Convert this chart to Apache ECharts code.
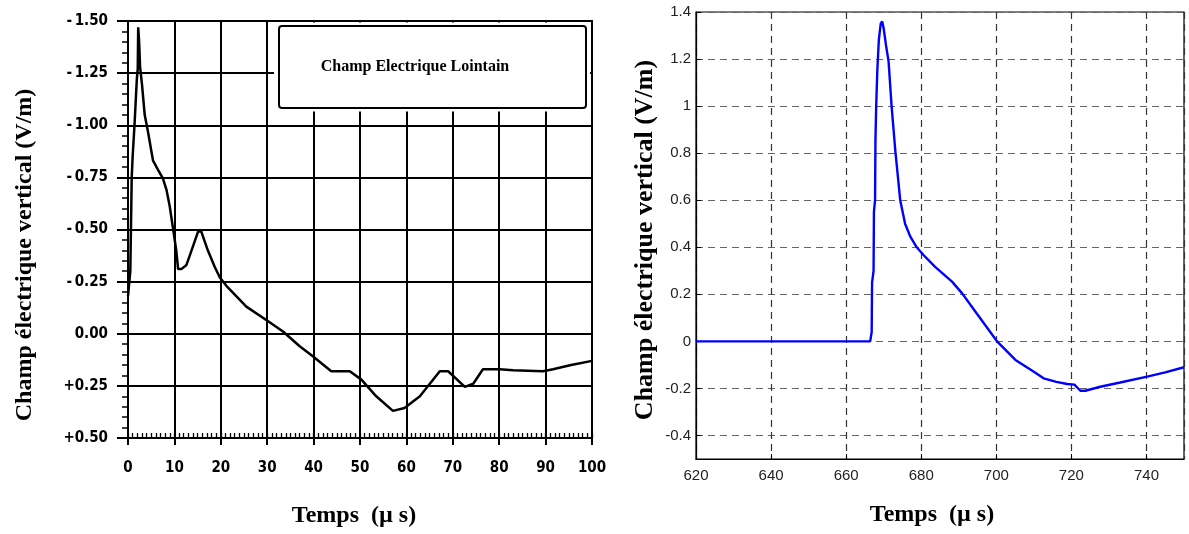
<!DOCTYPE html>
<html>
<head>
<meta charset="utf-8">
<script src="https://cdn.jsdelivr.net/npm/echarts@6/dist/echarts.min.js"></script>
<style>
html,body{margin:0;padding:0;background:#fff;}
#chart{width:1189px;height:534px;}
</style>
</head>
<body>
<div id="chart"></div>
<script>
// ---- Left panel (scanned measurement) ----
const leftTime = [0, 0.5, 0.8, 1.0, 1.4, 1.9, 2.1, 2.2, 2.4, 2.6, 3.0, 3.6, 4.3, 5.0, 5.4, 6.5, 7.5, 8.3, 9.0, 9.7, 10.4, 10.8, 11.5, 12.6, 13.7, 15.1, 15.8, 17.2, 18.7, 19.8, 21.2, 25.5, 30.2, 33.4, 37.0, 39.9, 43.8, 47.8, 50.3, 53.5, 57.1, 59.6, 62.9, 67.2, 69.0, 72.6, 74.4, 76.5, 80.1, 83.0, 89.4, 91.6, 95.5, 100];
const leftField = [0.18, 0.30, 0.75, 0.85, 1.00, 1.22, 1.27, 1.47, 1.40, 1.28, 1.20, 1.05, 0.97, 0.88, 0.83, 0.785, 0.746, 0.69, 0.61, 0.506, 0.40, 0.31, 0.31, 0.33, 0.40, 0.49, 0.49, 0.40, 0.32, 0.27, 0.23, 0.13, 0.06, 0.011, -0.06, -0.109, -0.18, -0.18, -0.22, -0.30, -0.37, -0.356, -0.30, -0.18, -0.18, -0.255, -0.24, -0.17, -0.17, -0.175, -0.18, -0.17, -0.15, -0.13];
const leftYTickLabels = ['+0.50', '+0.25', '0.00', '-\u20090.25', '-\u20090.50', '-\u20090.75', '-\u20091.00', '-\u20091.25', '-\u20091.50'];
const leftXTickLabels = ['0', '10', '20', '30', '40', '50', '60', '70', '80', '90', '100'];

// ---- Right panel (simulation) ----
const rightTime = [620, 666.4, 666.8, 666.9, 667.3, 667.4, 667.7, 667.8, 668.0, 668.3, 668.7, 669.2, 669.6, 670.0, 670.6, 671.3, 672.1, 673.1, 674.4, 675.7, 677.1, 678.8, 680.6, 683.7, 688.2, 690.9, 694.5, 698.0, 700.2, 705.1, 710.0, 712.6, 716, 718.9, 720.8, 722.4, 723.7, 727.7, 733, 740.2, 745, 750];
const rightField = [0, 0, 0.04, 0.25, 0.30, 0.55, 0.60, 0.85, 1.00, 1.15, 1.28, 1.35, 1.36, 1.33, 1.26, 1.19, 1.00, 0.81, 0.60, 0.50, 0.445, 0.40, 0.367, 0.317, 0.254, 0.204, 0.125, 0.048, 0.0, -0.079, -0.129, -0.157, -0.172, -0.181, -0.184, -0.21, -0.21, -0.193, -0.175, -0.15, -0.132, -0.11];
const rightYTicks = [-0.4, -0.2, 0, 0.2, 0.4, 0.6, 0.8, 1, 1.2, 1.4];

const yTitle = 'Champ électrique vertical (V/m)';
const xTitle = 'Temps  (µ s)';
const boxText = 'Champ Electrique Lointain';

const scanFont = "'Liberation Sans Narrow', 'DejaVu Sans Condensed', 'Arial Narrow', sans-serif";
const serif = "'Liberation Serif', 'Times New Roman', serif";

const chart = echarts.init(document.getElementById('chart'), null, {renderer: 'canvas'});

const leftData = leftTime.map((t, i) => [t, leftField[i]]);
const rightData = rightTime.map((t, i) => [t, rightField[i]]);

const dashedH = {color: '#666', width: 1.2, type: [7, 5]};
const dashedV = {color: '#333', width: 1.2, type: [7, 5]};

chart.setOption({
  animation: false,
  backgroundColor: '#fff',
  grid: [
    {left: 128, top: 21, width: 464, height: 417, show: true, borderColor: '#000', borderWidth: 2, backgroundColor: 'transparent', outerBoundsMode: 'none', containLabel: false},
    {left: 696, top: 12, width: 488, height: 447, show: true, borderColor: '#000', borderWidth: 1.2, backgroundColor: 'transparent', outerBoundsMode: 'none', containLabel: false}
  ],
  xAxis: [
    {
      type: 'value', gridIndex: 0, min: 0, max: 100, interval: 10, position: 'bottom',
      axisLine: {show: true, onZero: false, lineStyle: {color: '#000', width: 2}},
      axisTick: {show: true, inside: false, length: 7, lineStyle: {color: '#000', width: 2}},
      axisLabel: {
        margin: 23, color: '#000', fontFamily: scanFont, fontWeight: 'bold', fontSize: 15,
        formatter: v => leftXTickLabels[Math.round(v / 10)]
      },
      splitLine: {show: true, lineStyle: {color: '#000', width: 2}}
    },
    {
      type: 'value', gridIndex: 0, min: 0, max: 100, interval: 1, position: 'bottom',
      axisLine: {show: false, onZero: false},
      axisTick: {show: true, inside: true, length: 5, lineStyle: {color: '#000', width: 1.3}},
      axisLabel: {show: false},
      splitLine: {show: false}
    },
    {
      type: 'value', gridIndex: 1, min: 620, max: 750, interval: 20, position: 'bottom',
      axisLine: {show: true, onZero: false, lineStyle: {color: '#000', width: 1.2}},
      axisTick: {show: true, inside: true, length: 5, lineStyle: {color: '#000'}},
      axisLabel: {margin: 9, color: '#222', fontFamily: "'Liberation Sans', Arial, sans-serif", fontSize: 15, showMaxLabel: false},
      splitLine: {show: true, lineStyle: dashedV}
    }
  ],
  yAxis: [
    {
      type: 'value', gridIndex: 0, min: -0.5, max: 1.5, interval: 0.25, position: 'left',
      axisLine: {show: true, onZero: false, lineStyle: {color: '#000', width: 2}},
      axisTick: {show: true, inside: false, length: 11, lineStyle: {color: '#000', width: 2}},
      minorTick: {show: true, splitNumber: 5, length: 6, lineStyle: {color: '#000', width: 1.5}},
      axisLabel: {
        margin: 20, color: '#000', fontFamily: scanFont, fontWeight: 'bold', fontSize: 15,
        formatter: v => leftYTickLabels[Math.round((v + 0.5) / 0.25)]
      },
      splitLine: {show: true, lineStyle: {color: '#000', width: 2}}
    },
    {
      type: 'value', gridIndex: 1, min: -0.5, max: 1.4, position: 'left',
      axisLine: {show: true, onZero: false, lineStyle: {color: '#000', width: 1.2}},
      axisTick: {show: true, inside: true, length: 5, customValues: rightYTicks, lineStyle: {color: '#000'}},
      axisLabel: {
        margin: 5, color: '#222', fontFamily: "'Liberation Sans', Arial, sans-serif", fontSize: 15,
        customValues: rightYTicks,
        formatter: v => String(Math.round(v * 10) / 10)
      },
      splitLine: {show: true, lineStyle: dashedH}
    }
  ],
  series: [
    {
      type: 'line', xAxisIndex: 0, yAxisIndex: 0, data: leftData, showSymbol: false,
      lineStyle: {color: '#000', width: 2.5}, z: 5
    },
    {
      type: 'line', xAxisIndex: 2, yAxisIndex: 1, data: rightData, showSymbol: false,
      lineStyle: {color: '#0000ff', width: 2.4}, z: 5
    }
  ],
  graphic: [
    {type: 'rect', z: 20, shape: {x: 274, y: 22.5, width: 316, height: 89}, style: {fill: '#fff'}},
    {type: 'rect', z: 21, shape: {x: 279, y: 26, width: 307, height: 82, r: 3}, style: {fill: 'none', stroke: '#000', lineWidth: 2}},
    {type: 'text', z: 22, x: 415, y: 67, style: {text: boxText, font: 'bold 16px ' + serif, fill: '#000', align: 'center', verticalAlign: 'middle'}},
    {type: 'text', z: 22, x: 25, y: 255, rotation: Math.PI / 2, style: {text: yTitle, font: 'bold 24px ' + serif, fill: '#000', align: 'center', verticalAlign: 'middle'}},
    {type: 'text', z: 22, x: 645, y: 240, rotation: Math.PI / 2, style: {text: yTitle, font: 'bold 26px ' + serif, fill: '#000', align: 'center', verticalAlign: 'middle'}},
    {type: 'text', z: 22, x: 354, y: 516, style: {text: xTitle, font: 'bold 24px ' + serif, fill: '#000', align: 'center', verticalAlign: 'middle'}},
    {type: 'text', z: 22, x: 932, y: 515, style: {text: xTitle, font: 'bold 24px ' + serif, fill: '#000', align: 'center', verticalAlign: 'middle'}}
  ]
});
</script>
</body>
</html>
